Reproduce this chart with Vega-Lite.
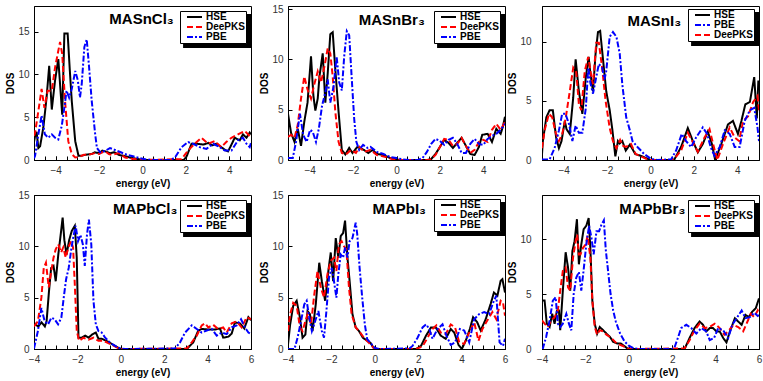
{
"$schema":"https://vega.github.io/schema/vega-lite/v6.json",
"padding":{"left":5,"top":3,"right":2,"bottom":2},
"background":"white",
"config":{
 "font":"Liberation Sans",
 "view":{"stroke":"black","strokeWidth":1},
 "axis":{"grid":false,"domainColor":"black","tickColor":"black","tickSize":-4,"labelFontSize":10,"labelColor":"#333","titleFontSize":10,"titleFontWeight":"bold","titleColor":"black","labelFlush":false,"labelOverlap":false},
 "axisX":{"labelPadding":9,"titlePadding":3},
 "axisY":{"labelPadding":9,"titlePadding":2},
 "legend":{"fillColor":"white","strokeColor":"black","padding":1,"symbolOffset":5,"labelFontSize":10,"labelFontWeight":"bold","labelColor":"black","symbolStrokeWidth":2,"symbolSize":64,"rowPadding":0,"labelOffset":10,"zindex":1}
},
"datasets":{
"p1":[
{"s":"HSE","e":-5,"v":2.1},{"s":"HSE","e":-4.95,"v":2.8},{"s":"HSE","e":-4.88,"v":3.3},{"s":"HSE","e":-4.8,"v":1.4},{"s":"HSE","e":-4.72,"v":1.6},{"s":"HSE","e":-4.57,"v":3.8},{"s":"HSE","e":-4.42,"v":7.3},{"s":"HSE","e":-4.3,"v":11},{"s":"HSE","e":-4.18,"v":5.9},{"s":"HSE","e":-4.03,"v":9.3},{"s":"HSE","e":-3.88,"v":11.8},{"s":"HSE","e":-3.8,"v":8.9},{"s":"HSE","e":-3.7,"v":5.3},{"s":"HSE","e":-3.6,"v":14.8},{"s":"HSE","e":-3.45,"v":14.8},{"s":"HSE","e":-3.35,"v":10.5},{"s":"HSE","e":-3.26,"v":6.9},{"s":"HSE","e":-3.1,"v":2.2},{"s":"HSE","e":-2.95,"v":0.5},{"s":"HSE","e":-2.8,"v":0.5},{"s":"HSE","e":-2.65,"v":0.6},{"s":"HSE","e":-2.35,"v":0.7},{"s":"HSE","e":-2.2,"v":0.9},{"s":"HSE","e":-2,"v":0.8},{"s":"HSE","e":-1.85,"v":1.1},{"s":"HSE","e":-1.7,"v":1},{"s":"HSE","e":-1.5,"v":0.8},{"s":"HSE","e":-1.3,"v":0.9},{"s":"HSE","e":-1.1,"v":0.6},{"s":"HSE","e":-0.9,"v":0.5},{"s":"HSE","e":-0.6,"v":0.3},{"s":"HSE","e":-0.3,"v":0.15},{"s":"HSE","e":0,"v":0},{"s":"HSE","e":1.9,"v":0},{"s":"HSE","e":2.03,"v":0.4},{"s":"HSE","e":2.26,"v":1.9},{"s":"HSE","e":2.5,"v":1.9},{"s":"HSE","e":2.8,"v":1.8},{"s":"HSE","e":3.05,"v":2},{"s":"HSE","e":3.2,"v":1.7},{"s":"HSE","e":3.4,"v":1.9},{"s":"HSE","e":3.63,"v":1.5},{"s":"HSE","e":3.8,"v":1.2},{"s":"HSE","e":3.94,"v":1},{"s":"HSE","e":4.1,"v":1.8},{"s":"HSE","e":4.25,"v":2.6},{"s":"HSE","e":4.48,"v":2.3},{"s":"HSE","e":4.63,"v":3},{"s":"HSE","e":4.79,"v":2.6},{"s":"HSE","e":4.94,"v":3.2},{"s":"HSE","e":5,"v":3},
{"s":"DeePKS","e":-5,"v":2.8},{"s":"DeePKS","e":-4.95,"v":3.2},{"s":"DeePKS","e":-4.8,"v":5.7},{"s":"DeePKS","e":-4.65,"v":8.3},{"s":"DeePKS","e":-4.52,"v":6.1},{"s":"DeePKS","e":-4.37,"v":8.1},{"s":"DeePKS","e":-4.18,"v":8.1},{"s":"DeePKS","e":-4.03,"v":10.8},{"s":"DeePKS","e":-3.9,"v":12.5},{"s":"DeePKS","e":-3.8,"v":13.8},{"s":"DeePKS","e":-3.7,"v":12.4},{"s":"DeePKS","e":-3.57,"v":6.9},{"s":"DeePKS","e":-3.42,"v":2.2},{"s":"DeePKS","e":-3.26,"v":0.7},{"s":"DeePKS","e":-3.1,"v":0.3},{"s":"DeePKS","e":-2.95,"v":0.35},{"s":"DeePKS","e":-2.7,"v":0.6},{"s":"DeePKS","e":-2.5,"v":0.6},{"s":"DeePKS","e":-2.2,"v":0.8},{"s":"DeePKS","e":-2,"v":0.7},{"s":"DeePKS","e":-1.85,"v":0.9},{"s":"DeePKS","e":-1.7,"v":1},{"s":"DeePKS","e":-1.55,"v":0.7},{"s":"DeePKS","e":-1.4,"v":0.6},{"s":"DeePKS","e":-1.1,"v":0.8},{"s":"DeePKS","e":-0.8,"v":0.3},{"s":"DeePKS","e":-0.5,"v":0.15},{"s":"DeePKS","e":0,"v":0},{"s":"DeePKS","e":1.8,"v":0.1},{"s":"DeePKS","e":2.1,"v":1.1},{"s":"DeePKS","e":2.4,"v":1.9},{"s":"DeePKS","e":2.71,"v":2.6},{"s":"DeePKS","e":3.02,"v":1.9},{"s":"DeePKS","e":3.33,"v":2.2},{"s":"DeePKS","e":3.63,"v":1.5},{"s":"DeePKS","e":3.86,"v":2.1},{"s":"DeePKS","e":4.1,"v":2.6},{"s":"DeePKS","e":4.4,"v":3},{"s":"DeePKS","e":4.71,"v":3.4},{"s":"DeePKS","e":4.94,"v":2.8},{"s":"DeePKS","e":5,"v":3},
{"s":"PBE","e":-5,"v":0.2},{"s":"PBE","e":-4.95,"v":0.5},{"s":"PBE","e":-4.8,"v":3},{"s":"PBE","e":-4.65,"v":5.2},{"s":"PBE","e":-4.5,"v":3},{"s":"PBE","e":-4.34,"v":2.6},{"s":"PBE","e":-4.18,"v":3},{"s":"PBE","e":-4.03,"v":2.6},{"s":"PBE","e":-3.88,"v":2.4},{"s":"PBE","e":-3.72,"v":4},{"s":"PBE","e":-3.57,"v":6.7},{"s":"PBE","e":-3.5,"v":8.1},{"s":"PBE","e":-3.38,"v":7.3},{"s":"PBE","e":-3.26,"v":8.3},{"s":"PBE","e":-3.1,"v":10.4},{"s":"PBE","e":-2.98,"v":9.3},{"s":"PBE","e":-2.88,"v":7.3},{"s":"PBE","e":-2.8,"v":8.9},{"s":"PBE","e":-2.68,"v":13.2},{"s":"PBE","e":-2.57,"v":14.1},{"s":"PBE","e":-2.46,"v":10.8},{"s":"PBE","e":-2.34,"v":6.9},{"s":"PBE","e":-2.18,"v":3},{"s":"PBE","e":-2.1,"v":1.4},{"s":"PBE","e":-1.95,"v":0.9},{"s":"PBE","e":-1.7,"v":1.1},{"s":"PBE","e":-1.5,"v":1.4},{"s":"PBE","e":-1.3,"v":1.2},{"s":"PBE","e":-1,"v":0.9},{"s":"PBE","e":-0.7,"v":0.6},{"s":"PBE","e":-0.4,"v":0.4},{"s":"PBE","e":-0.1,"v":0.2},{"s":"PBE","e":0.2,"v":0.05},{"s":"PBE","e":0.5,"v":0},{"s":"PBE","e":1.3,"v":0},{"s":"PBE","e":1.5,"v":0.3},{"s":"PBE","e":1.8,"v":1.5},{"s":"PBE","e":2.1,"v":2.1},{"s":"PBE","e":2.33,"v":1.9},{"s":"PBE","e":2.64,"v":1.5},{"s":"PBE","e":2.95,"v":1.3},{"s":"PBE","e":3.25,"v":1.9},{"s":"PBE","e":3.56,"v":1.5},{"s":"PBE","e":3.79,"v":1.1},{"s":"PBE","e":4.1,"v":1.1},{"s":"PBE","e":4.4,"v":2.3},{"s":"PBE","e":4.63,"v":2.6},{"s":"PBE","e":4.79,"v":1.9},{"s":"PBE","e":4.94,"v":1.5},{"s":"PBE","e":5,"v":2}
],
"p2":[
{"s":"HSE","e":-5,"v":4.6},{"s":"HSE","e":-4.86,"v":2.7},{"s":"HSE","e":-4.7,"v":1.8},{"s":"HSE","e":-4.55,"v":3.1},{"s":"HSE","e":-4.4,"v":1.4},{"s":"HSE","e":-4.25,"v":3.8},{"s":"HSE","e":-4.1,"v":5.7},{"s":"HSE","e":-3.94,"v":10.3},{"s":"HSE","e":-3.83,"v":6.4},{"s":"HSE","e":-3.74,"v":4.9},{"s":"HSE","e":-3.63,"v":6.1},{"s":"HSE","e":-3.55,"v":8.3},{"s":"HSE","e":-3.4,"v":10.6},{"s":"HSE","e":-3.28,"v":5.7},{"s":"HSE","e":-3.17,"v":8.6},{"s":"HSE","e":-3.05,"v":12.5},{"s":"HSE","e":-2.94,"v":12.7},{"s":"HSE","e":-2.82,"v":9},{"s":"HSE","e":-2.67,"v":4.8},{"s":"HSE","e":-2.52,"v":1},{"s":"HSE","e":-2.36,"v":0.55},{"s":"HSE","e":-2.18,"v":1.2},{"s":"HSE","e":-2.03,"v":0.7},{"s":"HSE","e":-1.8,"v":1.3},{"s":"HSE","e":-1.5,"v":1},{"s":"HSE","e":-1.3,"v":0.7},{"s":"HSE","e":-1.1,"v":1},{"s":"HSE","e":-0.9,"v":0.6},{"s":"HSE","e":-0.6,"v":0.5},{"s":"HSE","e":-0.3,"v":0.2},{"s":"HSE","e":0,"v":0.05},{"s":"HSE","e":0.2,"v":0},{"s":"HSE","e":1.4,"v":0},{"s":"HSE","e":1.6,"v":0.1},{"s":"HSE","e":1.8,"v":0.6},{"s":"HSE","e":2,"v":1.3},{"s":"HSE","e":2.2,"v":2},{"s":"HSE","e":2.4,"v":1.7},{"s":"HSE","e":2.6,"v":1.2},{"s":"HSE","e":2.8,"v":1.7},{"s":"HSE","e":3,"v":2.2},{"s":"HSE","e":3.2,"v":1.4},{"s":"HSE","e":3.4,"v":0.6},{"s":"HSE","e":3.6,"v":0.5},{"s":"HSE","e":3.8,"v":1.3},{"s":"HSE","e":3.95,"v":2.5},{"s":"HSE","e":4.2,"v":2.6},{"s":"HSE","e":4.4,"v":1.8},{"s":"HSE","e":4.6,"v":3.1},{"s":"HSE","e":4.8,"v":2.6},{"s":"HSE","e":4.9,"v":3.3},{"s":"HSE","e":5,"v":4.3},
{"s":"DeePKS","e":-5,"v":2.3},{"s":"DeePKS","e":-4.86,"v":2.5},{"s":"DeePKS","e":-4.7,"v":2.2},{"s":"DeePKS","e":-4.55,"v":3.5},{"s":"DeePKS","e":-4.4,"v":6.1},{"s":"DeePKS","e":-4.25,"v":8.3},{"s":"DeePKS","e":-4.1,"v":7},{"s":"DeePKS","e":-3.94,"v":6.1},{"s":"DeePKS","e":-3.79,"v":7.5},{"s":"DeePKS","e":-3.63,"v":8.8},{"s":"DeePKS","e":-3.48,"v":7.7},{"s":"DeePKS","e":-3.32,"v":9.3},{"s":"DeePKS","e":-3.17,"v":11.1},{"s":"DeePKS","e":-3.05,"v":10.6},{"s":"DeePKS","e":-2.94,"v":8.3},{"s":"DeePKS","e":-2.82,"v":4.8},{"s":"DeePKS","e":-2.67,"v":1.8},{"s":"DeePKS","e":-2.52,"v":0.7},{"s":"DeePKS","e":-2.33,"v":0.55},{"s":"DeePKS","e":-2.1,"v":1},{"s":"DeePKS","e":-1.87,"v":0.7},{"s":"DeePKS","e":-1.7,"v":1.3},{"s":"DeePKS","e":-1.5,"v":0.8},{"s":"DeePKS","e":-1.2,"v":1},{"s":"DeePKS","e":-0.9,"v":0.5},{"s":"DeePKS","e":-0.5,"v":0.3},{"s":"DeePKS","e":-0.2,"v":0.1},{"s":"DeePKS","e":0,"v":0},{"s":"DeePKS","e":1.5,"v":0},{"s":"DeePKS","e":1.6,"v":0.1},{"s":"DeePKS","e":1.8,"v":0.5},{"s":"DeePKS","e":2,"v":1.3},{"s":"DeePKS","e":2.2,"v":2.1},{"s":"DeePKS","e":2.4,"v":2},{"s":"DeePKS","e":2.6,"v":1.4},{"s":"DeePKS","e":2.8,"v":1.6},{"s":"DeePKS","e":3,"v":2.2},{"s":"DeePKS","e":3.2,"v":1.4},{"s":"DeePKS","e":3.4,"v":0.7},{"s":"DeePKS","e":3.6,"v":1},{"s":"DeePKS","e":3.8,"v":1.8},{"s":"DeePKS","e":4,"v":2},{"s":"DeePKS","e":4.2,"v":1.8},{"s":"DeePKS","e":4.4,"v":3},{"s":"DeePKS","e":4.6,"v":3.6},{"s":"DeePKS","e":4.8,"v":3},{"s":"DeePKS","e":5,"v":3.8},
{"s":"PBE","e":-5,"v":0.2},{"s":"PBE","e":-4.78,"v":0.2},{"s":"PBE","e":-4.63,"v":1.8},{"s":"PBE","e":-4.45,"v":4.6},{"s":"PBE","e":-4.3,"v":2.5},{"s":"PBE","e":-4.14,"v":1.8},{"s":"PBE","e":-3.98,"v":3},{"s":"PBE","e":-3.86,"v":2.8},{"s":"PBE","e":-3.71,"v":1.8},{"s":"PBE","e":-3.58,"v":3.1},{"s":"PBE","e":-3.43,"v":5.4},{"s":"PBE","e":-3.28,"v":6.7},{"s":"PBE","e":-3.17,"v":8},{"s":"PBE","e":-3.05,"v":5.7},{"s":"PBE","e":-2.9,"v":7.3},{"s":"PBE","e":-2.76,"v":10.3},{"s":"PBE","e":-2.64,"v":7.7},{"s":"PBE","e":-2.52,"v":6.9},{"s":"PBE","e":-2.41,"v":10.3},{"s":"PBE","e":-2.29,"v":12.8},{"s":"PBE","e":-2.18,"v":12.4},{"s":"PBE","e":-2.06,"v":8},{"s":"PBE","e":-1.95,"v":4.1},{"s":"PBE","e":-1.85,"v":1.8},{"s":"PBE","e":-1.72,"v":1},{"s":"PBE","e":-1.54,"v":1.5},{"s":"PBE","e":-1.34,"v":1.2},{"s":"PBE","e":-1.2,"v":1.3},{"s":"PBE","e":-0.9,"v":0.8},{"s":"PBE","e":-0.6,"v":0.6},{"s":"PBE","e":-0.3,"v":0.3},{"s":"PBE","e":0,"v":0.2},{"s":"PBE","e":0.3,"v":0.05},{"s":"PBE","e":0.6,"v":0},{"s":"PBE","e":1,"v":0},{"s":"PBE","e":1.2,"v":0.2},{"s":"PBE","e":1.4,"v":0.8},{"s":"PBE","e":1.6,"v":1.6},{"s":"PBE","e":1.8,"v":2.1},{"s":"PBE","e":2,"v":1.9},{"s":"PBE","e":2.2,"v":1.5},{"s":"PBE","e":2.4,"v":2},{"s":"PBE","e":2.6,"v":2.2},{"s":"PBE","e":2.8,"v":1.6},{"s":"PBE","e":3,"v":0.7},{"s":"PBE","e":3.2,"v":0.7},{"s":"PBE","e":3.4,"v":1.6},{"s":"PBE","e":3.6,"v":2.1},{"s":"PBE","e":3.8,"v":1.6},{"s":"PBE","e":4,"v":1.5},{"s":"PBE","e":4.2,"v":2.1},{"s":"PBE","e":4.4,"v":2.4},{"s":"PBE","e":4.6,"v":2.6},{"s":"PBE","e":4.8,"v":3},{"s":"PBE","e":5,"v":3.6}
],
"p3":[
{"s":"HSE","e":-5,"v":0.5},{"s":"HSE","e":-4.96,"v":1.6},{"s":"HSE","e":-4.8,"v":3.6},{"s":"HSE","e":-4.65,"v":4.2},{"s":"HSE","e":-4.5,"v":4.2},{"s":"HSE","e":-4.35,"v":1.9},{"s":"HSE","e":-4.22,"v":1},{"s":"HSE","e":-4.1,"v":1.6},{"s":"HSE","e":-3.95,"v":3.3},{"s":"HSE","e":-3.87,"v":2.6},{"s":"HSE","e":-3.72,"v":2.2},{"s":"HSE","e":-3.56,"v":5.3},{"s":"HSE","e":-3.45,"v":8.5},{"s":"HSE","e":-3.3,"v":5.8},{"s":"HSE","e":-3.14,"v":3.9},{"s":"HSE","e":-2.98,"v":7},{"s":"HSE","e":-2.85,"v":8.7},{"s":"HSE","e":-2.77,"v":7.3},{"s":"HSE","e":-2.65,"v":5.8},{"s":"HSE","e":-2.53,"v":9},{"s":"HSE","e":-2.42,"v":10.8},{"s":"HSE","e":-2.32,"v":10.9},{"s":"HSE","e":-2.2,"v":8.7},{"s":"HSE","e":-2.04,"v":5.8},{"s":"HSE","e":-1.88,"v":4.2},{"s":"HSE","e":-1.76,"v":2.6},{"s":"HSE","e":-1.62,"v":0.3},{"s":"HSE","e":-1.5,"v":1.6},{"s":"HSE","e":-1.42,"v":1.4},{"s":"HSE","e":-1.3,"v":1.6},{"s":"HSE","e":-1.14,"v":0.8},{"s":"HSE","e":-0.95,"v":1.3},{"s":"HSE","e":-0.7,"v":0.5},{"s":"HSE","e":-0.44,"v":0.35},{"s":"HSE","e":-0.13,"v":0.1},{"s":"HSE","e":0,"v":0},{"s":"HSE","e":1,"v":0},{"s":"HSE","e":1.1,"v":0.05},{"s":"HSE","e":1.41,"v":1.1},{"s":"HSE","e":1.72,"v":2.7},{"s":"HSE","e":1.95,"v":1.6},{"s":"HSE","e":2.18,"v":0.65},{"s":"HSE","e":2.41,"v":1.35},{"s":"HSE","e":2.64,"v":2.4},{"s":"HSE","e":2.83,"v":1.35},{"s":"HSE","e":2.98,"v":0},{"s":"HSE","e":3.26,"v":1.35},{"s":"HSE","e":3.57,"v":3},{"s":"HSE","e":3.8,"v":3.3},{"s":"HSE","e":4.03,"v":2.2},{"s":"HSE","e":4.19,"v":3.3},{"s":"HSE","e":4.37,"v":4.7},{"s":"HSE","e":4.58,"v":4.9},{"s":"HSE","e":4.78,"v":7},{"s":"HSE","e":4.9,"v":3.5},{"s":"HSE","e":4.97,"v":6.7},{"s":"HSE","e":5,"v":6.5},
{"s":"DeePKS","e":-5,"v":1},{"s":"DeePKS","e":-4.88,"v":2.5},{"s":"DeePKS","e":-4.68,"v":3.9},{"s":"DeePKS","e":-4.53,"v":3.6},{"s":"DeePKS","e":-4.37,"v":2.3},{"s":"DeePKS","e":-4.22,"v":1.6},{"s":"DeePKS","e":-4.07,"v":2.2},{"s":"DeePKS","e":-3.92,"v":3.4},{"s":"DeePKS","e":-3.72,"v":5.8},{"s":"DeePKS","e":-3.56,"v":7.8},{"s":"DeePKS","e":-3.42,"v":7.4},{"s":"DeePKS","e":-3.3,"v":4.7},{"s":"DeePKS","e":-3.19,"v":4.2},{"s":"DeePKS","e":-3.03,"v":7.5},{"s":"DeePKS","e":-2.87,"v":8.7},{"s":"DeePKS","e":-2.72,"v":7},{"s":"DeePKS","e":-2.65,"v":6.4},{"s":"DeePKS","e":-2.5,"v":9.9},{"s":"DeePKS","e":-2.38,"v":9.9},{"s":"DeePKS","e":-2.23,"v":7.8},{"s":"DeePKS","e":-2.07,"v":5},{"s":"DeePKS","e":-1.88,"v":2.7},{"s":"DeePKS","e":-1.73,"v":1.6},{"s":"DeePKS","e":-1.57,"v":1},{"s":"DeePKS","e":-1.4,"v":1.7},{"s":"DeePKS","e":-1.27,"v":1.2},{"s":"DeePKS","e":-1.14,"v":1.1},{"s":"DeePKS","e":-0.9,"v":1.35},{"s":"DeePKS","e":-0.68,"v":0.5},{"s":"DeePKS","e":-0.44,"v":0.3},{"s":"DeePKS","e":-0.2,"v":0.1},{"s":"DeePKS","e":0,"v":0},{"s":"DeePKS","e":1,"v":0},{"s":"DeePKS","e":1.1,"v":0.1},{"s":"DeePKS","e":1.41,"v":0.8},{"s":"DeePKS","e":1.72,"v":2.3},{"s":"DeePKS","e":1.95,"v":1.5},{"s":"DeePKS","e":2.18,"v":0.7},{"s":"DeePKS","e":2.49,"v":1.9},{"s":"DeePKS","e":2.72,"v":2.6},{"s":"DeePKS","e":2.92,"v":1.1},{"s":"DeePKS","e":3.08,"v":0},{"s":"DeePKS","e":3.34,"v":1.35},{"s":"DeePKS","e":3.65,"v":2.75},{"s":"DeePKS","e":3.88,"v":1.9},{"s":"DeePKS","e":4.08,"v":1.6},{"s":"DeePKS","e":4.27,"v":3.3},{"s":"DeePKS","e":4.5,"v":3.7},{"s":"DeePKS","e":4.73,"v":4.9},{"s":"DeePKS","e":4.93,"v":5.4},{"s":"DeePKS","e":5,"v":4.2},
{"s":"PBE","e":-5,"v":0.05},{"s":"PBE","e":-4.65,"v":0.05},{"s":"PBE","e":-4.42,"v":1},{"s":"PBE","e":-4.22,"v":2.5},{"s":"PBE","e":-4.07,"v":3.9},{"s":"PBE","e":-3.92,"v":3.9},{"s":"PBE","e":-3.75,"v":3},{"s":"PBE","e":-3.6,"v":1.6},{"s":"PBE","e":-3.45,"v":2.9},{"s":"PBE","e":-3.3,"v":2.3},{"s":"PBE","e":-3.14,"v":2.3},{"s":"PBE","e":-2.98,"v":4.4},{"s":"PBE","e":-2.87,"v":7.8},{"s":"PBE","e":-2.77,"v":6.5},{"s":"PBE","e":-2.65,"v":5.6},{"s":"PBE","e":-2.5,"v":7},{"s":"PBE","e":-2.38,"v":8.1},{"s":"PBE","e":-2.23,"v":7.8},{"s":"PBE","e":-2.12,"v":6.8},{"s":"PBE","e":-2.04,"v":7.5},{"s":"PBE","e":-1.88,"v":10.4},{"s":"PBE","e":-1.73,"v":10.8},{"s":"PBE","e":-1.57,"v":10.4},{"s":"PBE","e":-1.42,"v":9},{"s":"PBE","e":-1.3,"v":6.4},{"s":"PBE","e":-1.12,"v":3.6},{"s":"PBE","e":-0.95,"v":2.5},{"s":"PBE","e":-0.83,"v":1.6},{"s":"PBE","e":-0.6,"v":1.1},{"s":"PBE","e":-0.29,"v":0.5},{"s":"PBE","e":0.02,"v":0.1},{"s":"PBE","e":0.3,"v":0},{"s":"PBE","e":0.95,"v":0.05},{"s":"PBE","e":1.18,"v":0.8},{"s":"PBE","e":1.44,"v":2.2},{"s":"PBE","e":1.64,"v":1.6},{"s":"PBE","e":1.87,"v":1.1},{"s":"PBE","e":2.1,"v":1.9},{"s":"PBE","e":2.41,"v":2.75},{"s":"PBE","e":2.61,"v":2.2},{"s":"PBE","e":2.77,"v":1.1},{"s":"PBE","e":2.95,"v":0.35},{"s":"PBE","e":3.19,"v":1.1},{"s":"PBE","e":3.42,"v":2.5},{"s":"PBE","e":3.65,"v":2.2},{"s":"PBE","e":3.88,"v":1.1},{"s":"PBE","e":4.11,"v":1.1},{"s":"PBE","e":4.34,"v":3.3},{"s":"PBE","e":4.58,"v":4.2},{"s":"PBE","e":4.78,"v":4.4},{"s":"PBE","e":4.93,"v":2.75},{"s":"PBE","e":5,"v":1.6}
],
"p4":[
{"s":"HSE","e":-4,"v":2.6},{"s":"HSE","e":-3.95,"v":2.4},{"s":"HSE","e":-3.8,"v":2.2},{"s":"HSE","e":-3.65,"v":2.6},{"s":"HSE","e":-3.5,"v":2.2},{"s":"HSE","e":-3.42,"v":2.7},{"s":"HSE","e":-3.31,"v":5.6},{"s":"HSE","e":-3.21,"v":7.9},{"s":"HSE","e":-3.1,"v":8.1},{"s":"HSE","e":-3,"v":6.6},{"s":"HSE","e":-2.88,"v":9.2},{"s":"HSE","e":-2.75,"v":11.5},{"s":"HSE","e":-2.68,"v":12.8},{"s":"HSE","e":-2.6,"v":10.6},{"s":"HSE","e":-2.5,"v":9.2},{"s":"HSE","e":-2.38,"v":10.6},{"s":"HSE","e":-2.26,"v":11.5},{"s":"HSE","e":-2.12,"v":12},{"s":"HSE","e":-2.03,"v":8.9},{"s":"HSE","e":-1.95,"v":1.1},{"s":"HSE","e":-1.8,"v":1.1},{"s":"HSE","e":-1.64,"v":1.3},{"s":"HSE","e":-1.49,"v":1.1},{"s":"HSE","e":-1.33,"v":1.4},{"s":"HSE","e":-1.15,"v":1.6},{"s":"HSE","e":-1.03,"v":1},{"s":"HSE","e":-0.88,"v":1},{"s":"HSE","e":-0.57,"v":0.7},{"s":"HSE","e":-0.27,"v":0.3},{"s":"HSE","e":0,"v":0},{"s":"HSE","e":3.04,"v":0},{"s":"HSE","e":3.34,"v":0.65},{"s":"HSE","e":3.57,"v":1.8},{"s":"HSE","e":3.73,"v":1.95},{"s":"HSE","e":4.03,"v":1.9},{"s":"HSE","e":4.34,"v":1.9},{"s":"HSE","e":4.57,"v":2},{"s":"HSE","e":4.72,"v":1.1},{"s":"HSE","e":4.96,"v":1.2},{"s":"HSE","e":5.11,"v":1.5},{"s":"HSE","e":5.26,"v":2.6},{"s":"HSE","e":5.49,"v":2.5},{"s":"HSE","e":5.69,"v":2},{"s":"HSE","e":5.88,"v":3.1},{"s":"HSE","e":6,"v":2.8},
{"s":"DeePKS","e":-4,"v":2.2},{"s":"DeePKS","e":-3.82,"v":2.7},{"s":"DeePKS","e":-3.66,"v":5},{"s":"DeePKS","e":-3.55,"v":7.9},{"s":"DeePKS","e":-3.45,"v":8.4},{"s":"DeePKS","e":-3.32,"v":6},{"s":"DeePKS","e":-3.2,"v":7.6},{"s":"DeePKS","e":-3.1,"v":8.9},{"s":"DeePKS","e":-3,"v":9.7},{"s":"DeePKS","e":-2.88,"v":10.2},{"s":"DeePKS","e":-2.75,"v":9.4},{"s":"DeePKS","e":-2.65,"v":9.9},{"s":"DeePKS","e":-2.54,"v":8.9},{"s":"DeePKS","e":-2.42,"v":9.9},{"s":"DeePKS","e":-2.29,"v":10.5},{"s":"DeePKS","e":-2.2,"v":9.9},{"s":"DeePKS","e":-2.12,"v":6.3},{"s":"DeePKS","e":-2.03,"v":1.75},{"s":"DeePKS","e":-1.92,"v":0.8},{"s":"DeePKS","e":-1.72,"v":1.1},{"s":"DeePKS","e":-1.49,"v":0.9},{"s":"DeePKS","e":-1.26,"v":1.1},{"s":"DeePKS","e":-1.03,"v":0.8},{"s":"DeePKS","e":-0.8,"v":0.8},{"s":"DeePKS","e":-0.5,"v":0.5},{"s":"DeePKS","e":-0.19,"v":0.15},{"s":"DeePKS","e":0,"v":0},{"s":"DeePKS","e":3.04,"v":0.05},{"s":"DeePKS","e":3.27,"v":0.65},{"s":"DeePKS","e":3.5,"v":1.3},{"s":"DeePKS","e":3.73,"v":2.3},{"s":"DeePKS","e":3.89,"v":2.5},{"s":"DeePKS","e":4.03,"v":2.1},{"s":"DeePKS","e":4.26,"v":2.35},{"s":"DeePKS","e":4.49,"v":1.95},{"s":"DeePKS","e":4.72,"v":2.1},{"s":"DeePKS","e":4.88,"v":1.6},{"s":"DeePKS","e":5.11,"v":2.5},{"s":"DeePKS","e":5.34,"v":2.7},{"s":"DeePKS","e":5.57,"v":2.1},{"s":"DeePKS","e":5.8,"v":3.1},{"s":"DeePKS","e":6,"v":2.9},
{"s":"PBE","e":-4,"v":0.05},{"s":"PBE","e":-3.82,"v":1.75},{"s":"PBE","e":-3.66,"v":4},{"s":"PBE","e":-3.51,"v":2.7},{"s":"PBE","e":-3.35,"v":2.4},{"s":"PBE","e":-3.2,"v":3.05},{"s":"PBE","e":-3.05,"v":2.9},{"s":"PBE","e":-2.89,"v":2.4},{"s":"PBE","e":-2.74,"v":3.05},{"s":"PBE","e":-2.63,"v":5},{"s":"PBE","e":-2.52,"v":6.8},{"s":"PBE","e":-2.4,"v":7.9},{"s":"PBE","e":-2.27,"v":9.9},{"s":"PBE","e":-2.18,"v":11},{"s":"PBE","e":-2.08,"v":12},{"s":"PBE","e":-1.97,"v":10.5},{"s":"PBE","e":-1.86,"v":11.1},{"s":"PBE","e":-1.75,"v":10.2},{"s":"PBE","e":-1.66,"v":8.1},{"s":"PBE","e":-1.56,"v":11.1},{"s":"PBE","e":-1.47,"v":12.6},{"s":"PBE","e":-1.36,"v":10.2},{"s":"PBE","e":-1.26,"v":4.7},{"s":"PBE","e":-1.15,"v":2.4},{"s":"PBE","e":-1.03,"v":1.75},{"s":"PBE","e":-0.88,"v":1.6},{"s":"PBE","e":-0.72,"v":1.1},{"s":"PBE","e":-0.49,"v":0.6},{"s":"PBE","e":-0.26,"v":0.3},{"s":"PBE","e":-0.03,"v":0.05},{"s":"PBE","e":0.2,"v":0},{"s":"PBE","e":2.5,"v":0.05},{"s":"PBE","e":2.73,"v":0.65},{"s":"PBE","e":2.96,"v":1.6},{"s":"PBE","e":3.27,"v":2.3},{"s":"PBE","e":3.5,"v":1.95},{"s":"PBE","e":3.73,"v":1.6},{"s":"PBE","e":3.96,"v":1.8},{"s":"PBE","e":4.19,"v":1.95},{"s":"PBE","e":4.42,"v":1.3},{"s":"PBE","e":4.65,"v":1.6},{"s":"PBE","e":4.88,"v":1.45},{"s":"PBE","e":5.11,"v":2.1},{"s":"PBE","e":5.34,"v":2.3},{"s":"PBE","e":5.54,"v":2.9},{"s":"PBE","e":5.72,"v":2.1},{"s":"PBE","e":5.88,"v":1.6},{"s":"PBE","e":6,"v":1.45}
],
"p5":[
{"s":"HSE","e":-4,"v":0.45},{"s":"HSE","e":-3.9,"v":2.4},{"s":"HSE","e":-3.76,"v":4.2},{"s":"HSE","e":-3.6,"v":4.7},{"s":"HSE","e":-3.45,"v":3.05},{"s":"HSE","e":-3.33,"v":1.1},{"s":"HSE","e":-3.2,"v":1.4},{"s":"HSE","e":-3.1,"v":3.7},{"s":"HSE","e":-2.99,"v":3.4},{"s":"HSE","e":-2.87,"v":1.75},{"s":"HSE","e":-2.72,"v":4.35},{"s":"HSE","e":-2.56,"v":8.4},{"s":"HSE","e":-2.44,"v":6.6},{"s":"HSE","e":-2.29,"v":4.7},{"s":"HSE","e":-2.14,"v":7.6},{"s":"HSE","e":-2.03,"v":9.4},{"s":"HSE","e":-1.92,"v":6.6},{"s":"HSE","e":-1.8,"v":10.8},{"s":"HSE","e":-1.68,"v":8.9},{"s":"HSE","e":-1.57,"v":11},{"s":"HSE","e":-1.46,"v":11.3},{"s":"HSE","e":-1.37,"v":12.5},{"s":"HSE","e":-1.26,"v":8.9},{"s":"HSE","e":-1.16,"v":6.6},{"s":"HSE","e":-1.03,"v":3.4},{"s":"HSE","e":-0.88,"v":2.1},{"s":"HSE","e":-0.73,"v":1.75},{"s":"HSE","e":-0.55,"v":1.1},{"s":"HSE","e":-0.35,"v":0.8},{"s":"HSE","e":-0.2,"v":0.6},{"s":"HSE","e":-0.05,"v":0.1},{"s":"HSE","e":0.1,"v":0},{"s":"HSE","e":1.9,"v":0},{"s":"HSE","e":2.13,"v":0.3},{"s":"HSE","e":2.36,"v":1.3},{"s":"HSE","e":2.59,"v":2.1},{"s":"HSE","e":2.81,"v":2.1},{"s":"HSE","e":3.04,"v":1.3},{"s":"HSE","e":3.27,"v":1},{"s":"HSE","e":3.5,"v":1.95},{"s":"HSE","e":3.66,"v":1.6},{"s":"HSE","e":3.86,"v":0.4},{"s":"HSE","e":4.01,"v":0},{"s":"HSE","e":4.19,"v":0.8},{"s":"HSE","e":4.38,"v":1.95},{"s":"HSE","e":4.53,"v":3.1},{"s":"HSE","e":4.72,"v":2.6},{"s":"HSE","e":4.88,"v":1.8},{"s":"HSE","e":5.11,"v":2.9},{"s":"HSE","e":5.34,"v":4.4},{"s":"HSE","e":5.49,"v":5.5},{"s":"HSE","e":5.65,"v":5.2},{"s":"HSE","e":5.8,"v":6.65},{"s":"HSE","e":5.88,"v":6.8},{"s":"HSE","e":6,"v":5.5},
{"s":"DeePKS","e":-4,"v":1.75},{"s":"DeePKS","e":-3.9,"v":3.4},{"s":"DeePKS","e":-3.76,"v":4.5},{"s":"DeePKS","e":-3.6,"v":4.2},{"s":"DeePKS","e":-3.45,"v":2.1},{"s":"DeePKS","e":-3.33,"v":1.75},{"s":"DeePKS","e":-3.2,"v":2.7},{"s":"DeePKS","e":-3.1,"v":3.4},{"s":"DeePKS","e":-2.94,"v":2.4},{"s":"DeePKS","e":-2.79,"v":5.3},{"s":"DeePKS","e":-2.64,"v":7.6},{"s":"DeePKS","e":-2.49,"v":6},{"s":"DeePKS","e":-2.34,"v":5},{"s":"DeePKS","e":-2.18,"v":7.3},{"s":"DeePKS","e":-2.03,"v":8.6},{"s":"DeePKS","e":-1.88,"v":8.9},{"s":"DeePKS","e":-1.77,"v":7.6},{"s":"DeePKS","e":-1.65,"v":10.2},{"s":"DeePKS","e":-1.53,"v":10.5},{"s":"DeePKS","e":-1.42,"v":10},{"s":"DeePKS","e":-1.31,"v":9.7},{"s":"DeePKS","e":-1.19,"v":6},{"s":"DeePKS","e":-1.07,"v":3.4},{"s":"DeePKS","e":-0.88,"v":2.1},{"s":"DeePKS","e":-0.73,"v":1.75},{"s":"DeePKS","e":-0.5,"v":1.1},{"s":"DeePKS","e":-0.27,"v":0.6},{"s":"DeePKS","e":-0.05,"v":0.1},{"s":"DeePKS","e":0.1,"v":0},{"s":"DeePKS","e":1.9,"v":0},{"s":"DeePKS","e":2.2,"v":0.25},{"s":"DeePKS","e":2.43,"v":1.1},{"s":"DeePKS","e":2.66,"v":1.95},{"s":"DeePKS","e":2.84,"v":2.3},{"s":"DeePKS","e":3.04,"v":1.6},{"s":"DeePKS","e":3.27,"v":1.45},{"s":"DeePKS","e":3.5,"v":2.4},{"s":"DeePKS","e":3.7,"v":2.1},{"s":"DeePKS","e":3.89,"v":0.65},{"s":"DeePKS","e":4.12,"v":0.5},{"s":"DeePKS","e":4.35,"v":1.6},{"s":"DeePKS","e":4.58,"v":2.6},{"s":"DeePKS","e":4.78,"v":0.8},{"s":"DeePKS","e":4.96,"v":1.95},{"s":"DeePKS","e":5.19,"v":2.8},{"s":"DeePKS","e":5.42,"v":3.6},{"s":"DeePKS","e":5.6,"v":2.9},{"s":"DeePKS","e":5.8,"v":4.7},{"s":"DeePKS","e":5.91,"v":4.5},{"s":"DeePKS","e":6,"v":3.25},
{"s":"PBE","e":-4,"v":0},{"s":"PBE","e":-3.7,"v":0},{"s":"PBE","e":-3.56,"v":1.1},{"s":"PBE","e":-3.4,"v":2.7},{"s":"PBE","e":-3.25,"v":4.35},{"s":"PBE","e":-3.14,"v":4.7},{"s":"PBE","e":-3.02,"v":3.05},{"s":"PBE","e":-2.9,"v":1.75},{"s":"PBE","e":-2.75,"v":2.7},{"s":"PBE","e":-2.6,"v":3.7},{"s":"PBE","e":-2.44,"v":1.75},{"s":"PBE","e":-2.34,"v":1.1},{"s":"PBE","e":-2.23,"v":3.7},{"s":"PBE","e":-2.11,"v":6.95},{"s":"PBE","e":-1.98,"v":7.9},{"s":"PBE","e":-1.88,"v":6.6},{"s":"PBE","e":-1.77,"v":5},{"s":"PBE","e":-1.68,"v":7.3},{"s":"PBE","e":-1.57,"v":9.2},{"s":"PBE","e":-1.46,"v":8.9},{"s":"PBE","e":-1.37,"v":9.9},{"s":"PBE","e":-1.26,"v":8.9},{"s":"PBE","e":-1.16,"v":10.5},{"s":"PBE","e":-1.03,"v":10.8},{"s":"PBE","e":-0.96,"v":11.5},{"s":"PBE","e":-0.88,"v":12.3},{"s":"PBE","e":-0.81,"v":11.2},{"s":"PBE","e":-0.7,"v":7.9},{"s":"PBE","e":-0.58,"v":5},{"s":"PBE","e":-0.46,"v":2.4},{"s":"PBE","e":-0.35,"v":0.95},{"s":"PBE","e":-0.2,"v":0.6},{"s":"PBE","e":0,"v":0.1},{"s":"PBE","e":0.2,"v":0},{"s":"PBE","e":1.59,"v":0.05},{"s":"PBE","e":1.74,"v":0.3},{"s":"PBE","e":1.97,"v":1.1},{"s":"PBE","e":2.2,"v":2.1},{"s":"PBE","e":2.36,"v":2.4},{"s":"PBE","e":2.51,"v":1.95},{"s":"PBE","e":2.66,"v":1},{"s":"PBE","e":2.89,"v":1.95},{"s":"PBE","e":3.12,"v":2.4},{"s":"PBE","e":3.3,"v":1.3},{"s":"PBE","e":3.5,"v":0.4},{"s":"PBE","e":3.7,"v":0.65},{"s":"PBE","e":3.92,"v":1.95},{"s":"PBE","e":4.12,"v":1.8},{"s":"PBE","e":4.35,"v":0.65},{"s":"PBE","e":4.58,"v":2.9},{"s":"PBE","e":4.81,"v":3.4},{"s":"PBE","e":5.04,"v":3.6},{"s":"PBE","e":5.27,"v":3.4},{"s":"PBE","e":5.45,"v":4.5},{"s":"PBE","e":5.6,"v":5.2},{"s":"PBE","e":5.75,"v":0.65},{"s":"PBE","e":5.91,"v":0.3},{"s":"PBE","e":6,"v":1}
],
"p6":[
{"s":"HSE","e":-4,"v":4.4},{"s":"HSE","e":-3.88,"v":4.4},{"s":"HSE","e":-3.78,"v":2.3},{"s":"HSE","e":-3.65,"v":2},{"s":"HSE","e":-3.53,"v":3.2},{"s":"HSE","e":-3.42,"v":2.3},{"s":"HSE","e":-3.31,"v":3.5},{"s":"HSE","e":-3.22,"v":3.5},{"s":"HSE","e":-3.16,"v":1.7},{"s":"HSE","e":-3.04,"v":5.3},{"s":"HSE","e":-2.91,"v":8.8},{"s":"HSE","e":-2.8,"v":7.4},{"s":"HSE","e":-2.7,"v":5.3},{"s":"HSE","e":-2.6,"v":8.9},{"s":"HSE","e":-2.5,"v":9.8},{"s":"HSE","e":-2.39,"v":11.8},{"s":"HSE","e":-2.3,"v":7.7},{"s":"HSE","e":-2.19,"v":9.5},{"s":"HSE","e":-2.08,"v":10.9},{"s":"HSE","e":-1.96,"v":11.2},{"s":"HSE","e":-1.85,"v":11.9},{"s":"HSE","e":-1.77,"v":9.1},{"s":"HSE","e":-1.68,"v":4.4},{"s":"HSE","e":-1.57,"v":2.3},{"s":"HSE","e":-1.46,"v":1.4},{"s":"HSE","e":-1.34,"v":2},{"s":"HSE","e":-1.18,"v":1.7},{"s":"HSE","e":-1.03,"v":1.4},{"s":"HSE","e":-0.87,"v":1.1},{"s":"HSE","e":-0.72,"v":0.65},{"s":"HSE","e":-0.53,"v":0.5},{"s":"HSE","e":-0.37,"v":0.5},{"s":"HSE","e":-0.06,"v":0.05},{"s":"HSE","e":0.1,"v":0},{"s":"HSE","e":2.57,"v":0},{"s":"HSE","e":2.8,"v":1},{"s":"HSE","e":3.03,"v":1.9},{"s":"HSE","e":3.26,"v":2.5},{"s":"HSE","e":3.42,"v":2.2},{"s":"HSE","e":3.57,"v":1.6},{"s":"HSE","e":3.73,"v":1.9},{"s":"HSE","e":3.88,"v":1.9},{"s":"HSE","e":4.04,"v":1.6},{"s":"HSE","e":4.19,"v":1.6},{"s":"HSE","e":4.35,"v":1},{"s":"HSE","e":4.5,"v":0.6},{"s":"HSE","e":4.66,"v":1.6},{"s":"HSE","e":4.89,"v":2.8},{"s":"HSE","e":5.04,"v":2.5},{"s":"HSE","e":5.2,"v":2.2},{"s":"HSE","e":5.38,"v":3.1},{"s":"HSE","e":5.53,"v":2.9},{"s":"HSE","e":5.69,"v":3.4},{"s":"HSE","e":5.85,"v":3.7},{"s":"HSE","e":6,"v":4.6},
{"s":"DeePKS","e":-4,"v":2.6},{"s":"DeePKS","e":-3.88,"v":2.3},{"s":"DeePKS","e":-3.73,"v":2},{"s":"DeePKS","e":-3.58,"v":2.6},{"s":"DeePKS","e":-3.42,"v":2.9},{"s":"DeePKS","e":-3.27,"v":3.5},{"s":"DeePKS","e":-3.16,"v":5.3},{"s":"DeePKS","e":-3.04,"v":7.1},{"s":"DeePKS","e":-2.91,"v":7.4},{"s":"DeePKS","e":-2.8,"v":5.6},{"s":"DeePKS","e":-2.7,"v":5.3},{"s":"DeePKS","e":-2.57,"v":8.3},{"s":"DeePKS","e":-2.45,"v":9.8},{"s":"DeePKS","e":-2.38,"v":10.4},{"s":"DeePKS","e":-2.3,"v":8.6},{"s":"DeePKS","e":-2.23,"v":8.6},{"s":"DeePKS","e":-2.11,"v":9.2},{"s":"DeePKS","e":-1.99,"v":9.5},{"s":"DeePKS","e":-1.9,"v":10.3},{"s":"DeePKS","e":-1.77,"v":8.3},{"s":"DeePKS","e":-1.68,"v":4.4},{"s":"DeePKS","e":-1.57,"v":2},{"s":"DeePKS","e":-1.46,"v":1.3},{"s":"DeePKS","e":-1.34,"v":1.7},{"s":"DeePKS","e":-1.18,"v":1.6},{"s":"DeePKS","e":-1.03,"v":1.3},{"s":"DeePKS","e":-0.8,"v":1},{"s":"DeePKS","e":-0.56,"v":0.5},{"s":"DeePKS","e":-0.3,"v":0.3},{"s":"DeePKS","e":-0.06,"v":0.05},{"s":"DeePKS","e":0.1,"v":0},{"s":"DeePKS","e":2.57,"v":0.05},{"s":"DeePKS","e":2.8,"v":0.8},{"s":"DeePKS","e":3.03,"v":1.7},{"s":"DeePKS","e":3.26,"v":2.3},{"s":"DeePKS","e":3.5,"v":1.9},{"s":"DeePKS","e":3.73,"v":2},{"s":"DeePKS","e":3.96,"v":2.3},{"s":"DeePKS","e":4.19,"v":1.9},{"s":"DeePKS","e":4.4,"v":1.3},{"s":"DeePKS","e":4.58,"v":1.6},{"s":"DeePKS","e":4.82,"v":2.2},{"s":"DeePKS","e":5.04,"v":2},{"s":"DeePKS","e":5.27,"v":1.6},{"s":"DeePKS","e":5.47,"v":2.5},{"s":"DeePKS","e":5.62,"v":3.2},{"s":"DeePKS","e":5.78,"v":2.9},{"s":"DeePKS","e":5.94,"v":3.5},{"s":"DeePKS","e":6,"v":3.2},
{"s":"PBE","e":-4,"v":0.05},{"s":"PBE","e":-3.96,"v":0.05},{"s":"PBE","e":-3.81,"v":1.1},{"s":"PBE","e":-3.65,"v":2.6},{"s":"PBE","e":-3.5,"v":4.4},{"s":"PBE","e":-3.37,"v":4.7},{"s":"PBE","e":-3.27,"v":2.3},{"s":"PBE","e":-3.16,"v":2},{"s":"PBE","e":-3.04,"v":2.3},{"s":"PBE","e":-2.88,"v":3.2},{"s":"PBE","e":-2.76,"v":2.3},{"s":"PBE","e":-2.65,"v":1.7},{"s":"PBE","e":-2.54,"v":5},{"s":"PBE","e":-2.42,"v":6.5},{"s":"PBE","e":-2.3,"v":7},{"s":"PBE","e":-2.19,"v":5.3},{"s":"PBE","e":-2.08,"v":7.2},{"s":"PBE","e":-1.96,"v":9.5},{"s":"PBE","e":-1.83,"v":11.2},{"s":"PBE","e":-1.72,"v":10.1},{"s":"PBE","e":-1.62,"v":8.6},{"s":"PBE","e":-1.49,"v":10.7},{"s":"PBE","e":-1.37,"v":10.7},{"s":"PBE","e":-1.26,"v":11.3},{"s":"PBE","e":-1.15,"v":11.7},{"s":"PBE","e":-1.06,"v":9},{"s":"PBE","e":-0.95,"v":7},{"s":"PBE","e":-0.84,"v":5},{"s":"PBE","e":-0.72,"v":3.5},{"s":"PBE","e":-0.6,"v":2.5},{"s":"PBE","e":-0.4,"v":1.4},{"s":"PBE","e":-0.2,"v":0.7},{"s":"PBE","e":0,"v":0.3},{"s":"PBE","e":0.25,"v":0.05},{"s":"PBE","e":0.5,"v":0},{"s":"PBE","e":2,"v":0},{"s":"PBE","e":2.1,"v":0.1},{"s":"PBE","e":2.26,"v":1},{"s":"PBE","e":2.41,"v":1.9},{"s":"PBE","e":2.65,"v":2.2},{"s":"PBE","e":2.88,"v":1.9},{"s":"PBE","e":3.11,"v":1.4},{"s":"PBE","e":3.34,"v":1.9},{"s":"PBE","e":3.57,"v":1.6},{"s":"PBE","e":3.73,"v":0.8},{"s":"PBE","e":3.93,"v":1},{"s":"PBE","e":4.12,"v":1.9},{"s":"PBE","e":4.35,"v":1.7},{"s":"PBE","e":4.58,"v":1},{"s":"PBE","e":4.77,"v":2.2},{"s":"PBE","e":4.97,"v":2.8},{"s":"PBE","e":5.2,"v":3.5},{"s":"PBE","e":5.38,"v":2.8},{"s":"PBE","e":5.58,"v":2.9},{"s":"PBE","e":5.78,"v":3.3},{"s":"PBE","e":5.94,"v":3},{"s":"PBE","e":6,"v":3.1}
]
},
"columns":3,
"spacing":{"row":35,"column":37},
"bounds":"flush",
"resolve":{"scale":{"x":"independent","y":"independent","color":"independent","strokeDash":"independent"},"legend":{"color":"independent","strokeDash":"independent"}},
"concat":[
 {"width":217,"height":154,"resolve":{"axis":{"x":"independent"}},"layer":[
  {"data":{"name":"p1"},"mark":{"type":"line","strokeWidth":2,"clip":true},"encoding":{
   "x":{"field":"e","type":"quantitative","scale":{"domain":[-5,5],"nice":false,"zero":false},"axis":{"title":"energy (eV)","orient":"bottom","values":[-4,-2,0,2,4]}},
   "y":{"field":"v","type":"quantitative","scale":{"domain":[0,18],"nice":false},"axis":{"title":"DOS","values":[0,2.5,5,7.5,10,12.5,15,17.5],"labelExpr":"datum.value % 5 === 0 ? '' + datum.value : ''"}},
   "color":{"field":"s","type":"nominal","scale":{"domain":["HSE","DeePKS","PBE"],"range":["#000000","#ff0000","#0000ff"]},"legend":{"title":null,"orient":"none","legendX":146,"legendY":5,"symbolType":"M-1,0H2.75"}},
   "strokeDash":{"field":"s","type":"nominal","scale":{"domain":["HSE","DeePKS","PBE"],"range":[[1,0],[6,3],[6,2,2,2]]},"legend":{"title":null,"orient":"none","legendX":146,"legendY":5,"symbolType":"M-1,0H2.75"}}}},
  {"data":{"values":[{}]},"mark":{"type":"rect","color":"black","clip":true},"encoding":{"x":{"datum":1.87,"type":"quantitative","axis":{"orient":"bottom","title":null,"labels":false,"domain":false,"values":[-5,-4.5,-4,-3.5,-3,-2.5,-2,-1.5,-1,-0.5,0,0.5,1,1.5,2,2.5,3,3.5,4,4.5,5]}},"x2":{"datum":5},"y":{"datum":17.07,"type":"quantitative"},"y2":{"datum":13.09}}},
  {"data":{"values":[{}]},"mark":{"type":"text","fontSize":15,"fontWeight":"bold","align":"left","baseline":"middle","color":"black"},"encoding":{"x":{"datum":-1.53,"type":"quantitative","axis":null},"y":{"datum":16.5,"type":"quantitative"},"text":{"value":"MASnCl₃"}}}
 ]},
 {"width":217,"height":154,"resolve":{"axis":{"x":"independent"}},"layer":[
  {"data":{"name":"p2"},"mark":{"type":"line","strokeWidth":2,"clip":true},"encoding":{
   "x":{"field":"e","type":"quantitative","scale":{"domain":[-5,5],"nice":false,"zero":false},"axis":{"title":"energy (eV)","orient":"bottom","values":[-4,-2,0,2,4]}},
   "y":{"field":"v","type":"quantitative","scale":{"domain":[0,15.3],"nice":false},"axis":{"title":"DOS","values":[0,2.5,5,7.5,10,12.5,15],"labelExpr":"datum.value % 5 === 0 ? '' + datum.value : ''"}},
   "color":{"field":"s","type":"nominal","scale":{"domain":["HSE","DeePKS","PBE"],"range":["#000000","#ff0000","#0000ff"]},"legend":{"title":null,"orient":"none","legendX":146,"legendY":5,"symbolType":"M-1,0H2.75"}},
   "strokeDash":{"field":"s","type":"nominal","scale":{"domain":["HSE","DeePKS","PBE"],"range":[[1,0],[6,3],[6,2,2,2]]},"legend":{"title":null,"orient":"none","legendX":146,"legendY":5,"symbolType":"M-1,0H2.75"}}}},
  {"data":{"values":[{}]},"mark":{"type":"rect","color":"black","clip":true},"encoding":{"x":{"datum":1.87,"type":"quantitative","axis":{"orient":"bottom","title":null,"labels":false,"domain":false,"values":[-5,-4.5,-4,-3.5,-3,-2.5,-2,-1.5,-1,-0.5,0,0.5,1,1.5,2,2.5,3,3.5,4,4.5,5]}},"x2":{"datum":5},"y":{"datum":14.5,"type":"quantitative"},"y2":{"datum":11.13}}},
  {"data":{"values":[{}]},"mark":{"type":"text","fontSize":15,"fontWeight":"bold","align":"left","baseline":"middle","color":"black"},"encoding":{"x":{"datum":-1.74,"type":"quantitative","axis":null},"y":{"datum":13.9,"type":"quantitative"},"text":{"value":"MASnBr₃"}}}
 ]},
 {"width":217,"height":154,"resolve":{"axis":{"x":"independent"}},"layer":[
  {"data":{"name":"p3"},"mark":{"type":"line","strokeWidth":2,"clip":true},"encoding":{
   "x":{"field":"e","type":"quantitative","scale":{"domain":[-5,5],"nice":false,"zero":false},"axis":{"title":"energy (eV)","orient":"bottom","values":[-4,-2,0,2,4]}},
   "y":{"field":"v","type":"quantitative","scale":{"domain":[0,13],"nice":false},"axis":{"title":"DOS","labelPadding":15,"values":[0,2.5,5,7.5,10,12.5],"labelExpr":"datum.value % 5 === 0 ? '' + datum.value : ''"}},
   "color":{"field":"s","type":"nominal","scale":{"domain":["HSE","PBE","DeePKS"],"range":["#000000","#0000ff","#ff0000"]},"legend":{"title":null,"orient":"none","legendX":146,"legendY":3,"symbolType":"M-1,0H2.75"}},
   "strokeDash":{"field":"s","type":"nominal","scale":{"domain":["HSE","PBE","DeePKS"],"range":[[1,0],[6,2,2,2],[6,3]]},"legend":{"title":null,"orient":"none","legendX":146,"legendY":3,"symbolType":"M-1,0H2.75"}}}},
  {"data":{"values":[{}]},"mark":{"type":"rect","color":"black","clip":true},"encoding":{"x":{"datum":1.87,"type":"quantitative","axis":{"orient":"bottom","title":null,"labels":false,"domain":false,"values":[-5,-4.5,-4,-3.5,-3,-2.5,-2,-1.5,-1,-0.5,0,0.5,1,1.5,2,2.5,3,3.5,4,4.5,5]}},"x2":{"datum":5},"y":{"datum":12.49,"type":"quantitative"},"y2":{"datum":9.62}}},
  {"data":{"values":[{}]},"mark":{"type":"text","fontSize":15,"fontWeight":"bold","align":"left","baseline":"middle","color":"black"},"encoding":{"x":{"datum":-1.06,"type":"quantitative","axis":null},"y":{"datum":11.7,"type":"quantitative"},"text":{"value":"MASnI₃"}}}
 ]},
 {"width":217,"height":154,"resolve":{"axis":{"x":"independent"}},"layer":[
  {"data":{"name":"p4"},"mark":{"type":"line","strokeWidth":2,"clip":true},"encoding":{
   "x":{"field":"e","type":"quantitative","scale":{"domain":[-4,6],"nice":false,"zero":false},"axis":{"title":"energy (eV)","orient":"bottom","values":[-4,-2,0,2,4,6]}},
   "y":{"field":"v","type":"quantitative","scale":{"domain":[0,15],"nice":false},"axis":{"title":"DOS","values":[0,2.5,5,7.5,10,12.5,15],"labelExpr":"datum.value % 5 === 0 ? '' + datum.value : ''"}},
   "color":{"field":"s","type":"nominal","scale":{"domain":["HSE","DeePKS","PBE"],"range":["#000000","#ff0000","#0000ff"]},"legend":{"title":null,"orient":"none","legendX":146,"legendY":5,"symbolType":"M-1,0H2.75"}},
   "strokeDash":{"field":"s","type":"nominal","scale":{"domain":["HSE","DeePKS","PBE"],"range":[[1,0],[6,3],[6,2,2,2]]},"legend":{"title":null,"orient":"none","legendX":146,"legendY":5,"symbolType":"M-1,0H2.75"}}}},
  {"data":{"values":[{}]},"mark":{"type":"rect","color":"black","clip":true},"encoding":{"x":{"datum":2.87,"type":"quantitative","axis":{"orient":"bottom","title":null,"labels":false,"domain":false,"values":[-4,-3.5,-3,-2.5,-2,-1.5,-1,-0.5,0,0.5,1,1.5,2,2.5,3,3.5,4,4.5,5,5.5,6]}},"x2":{"datum":6},"y":{"datum":14.22,"type":"quantitative"},"y2":{"datum":10.91}}},
  {"data":{"values":[{}]},"mark":{"type":"text","fontSize":15,"fontWeight":"bold","align":"left","baseline":"middle","color":"black"},"encoding":{"x":{"datum":-0.36,"type":"quantitative","axis":null},"y":{"datum":13.6,"type":"quantitative"},"text":{"value":"MAPbCl₃"}}}
 ]},
 {"width":217,"height":154,"resolve":{"axis":{"x":"independent"}},"layer":[
  {"data":{"name":"p5"},"mark":{"type":"line","strokeWidth":2,"clip":true},"encoding":{
   "x":{"field":"e","type":"quantitative","scale":{"domain":[-4,6],"nice":false,"zero":false},"axis":{"title":"energy (eV)","orient":"bottom","values":[-4,-2,0,2,4,6]}},
   "y":{"field":"v","type":"quantitative","scale":{"domain":[0,15],"nice":false},"axis":{"title":"DOS","values":[0,2.5,5,7.5,10,12.5,15],"labelExpr":"datum.value % 5 === 0 ? '' + datum.value : ''"}},
   "color":{"field":"s","type":"nominal","scale":{"domain":["HSE","DeePKS","PBE"],"range":["#000000","#ff0000","#0000ff"]},"legend":{"title":null,"orient":"none","legendX":146,"legendY":4,"symbolType":"M-1,0H2.75"}},
   "strokeDash":{"field":"s","type":"nominal","scale":{"domain":["HSE","DeePKS","PBE"],"range":[[1,0],[6,3],[6,2,2,2]]},"legend":{"title":null,"orient":"none","legendX":146,"legendY":4,"symbolType":"M-1,0H2.75"}}}},
  {"data":{"values":[{}]},"mark":{"type":"rect","color":"black","clip":true},"encoding":{"x":{"datum":2.87,"type":"quantitative","axis":{"orient":"bottom","title":null,"labels":false,"domain":false,"values":[-4,-3.5,-3,-2.5,-2,-1.5,-1,-0.5,0,0.5,1,1.5,2,2.5,3,3.5,4,4.5,5,5.5,6]}},"x2":{"datum":6},"y":{"datum":14.32,"type":"quantitative"},"y2":{"datum":11.01}}},
  {"data":{"values":[{}]},"mark":{"type":"text","fontSize":15,"fontWeight":"bold","align":"left","baseline":"middle","color":"black"},"encoding":{"x":{"datum":-0.11,"type":"quantitative","axis":null},"y":{"datum":13.6,"type":"quantitative"},"text":{"value":"MAPbI₃"}}}
 ]},
 {"width":217,"height":154,"resolve":{"axis":{"x":"independent"}},"layer":[
  {"data":{"name":"p6"},"mark":{"type":"line","strokeWidth":2,"clip":true},"encoding":{
   "x":{"field":"e","type":"quantitative","scale":{"domain":[-4,6],"nice":false,"zero":false},"axis":{"title":"energy (eV)","orient":"bottom","values":[-4,-2,0,2,4,6]}},
   "y":{"field":"v","type":"quantitative","scale":{"domain":[0,14],"nice":false},"axis":{"title":"DOS","labelPadding":15,"values":[0,2.5,5,7.5,10,12.5],"labelExpr":"datum.value % 5 === 0 ? '' + datum.value : ''"}},
   "color":{"field":"s","type":"nominal","scale":{"domain":["HSE","DeePKS","PBE"],"range":["#000000","#ff0000","#0000ff"]},"legend":{"title":null,"orient":"none","legendX":146,"legendY":5,"symbolType":"M-1,0H2.75"}},
   "strokeDash":{"field":"s","type":"nominal","scale":{"domain":["HSE","DeePKS","PBE"],"range":[[1,0],[6,3],[6,2,2,2]]},"legend":{"title":null,"orient":"none","legendX":146,"legendY":5,"symbolType":"M-1,0H2.75"}}}},
  {"data":{"values":[{}]},"mark":{"type":"rect","color":"black","clip":true},"encoding":{"x":{"datum":2.87,"type":"quantitative","axis":{"orient":"bottom","title":null,"labels":false,"domain":false,"values":[-4,-3.5,-3,-2.5,-2,-1.5,-1,-0.5,0,0.5,1,1.5,2,2.5,3,3.5,4,4.5,5,5.5,6]}},"x2":{"datum":6},"y":{"datum":13.27,"type":"quantitative"},"y2":{"datum":10.18}}},
  {"data":{"values":[{}]},"mark":{"type":"text","fontSize":15,"fontWeight":"bold","align":"left","baseline":"middle","color":"black"},"encoding":{"x":{"datum":-0.44,"type":"quantitative","axis":null},"y":{"datum":12.7,"type":"quantitative"},"text":{"value":"MAPbBr₃"}}}
 ]}
]
}
